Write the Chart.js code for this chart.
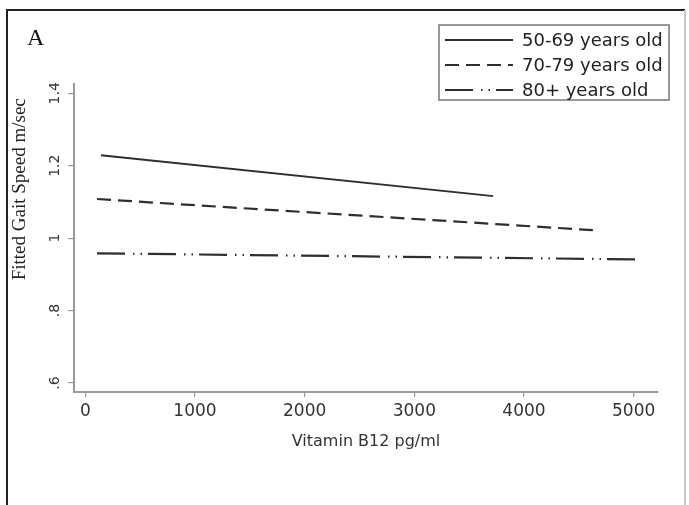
<!DOCTYPE html>
<html>
<head>
<meta charset="utf-8">
<script src="https://cdn.jsdelivr.net/npm/chart.js@4.4.0/dist/chart.umd.min.js"></script>
<style>
  html, body { margin: 0; padding: 0; background: #fff; }
  #wrap { position: relative; width: 689px; height: 505px; }
</style>
</head>
<body>
<div id="wrap"><canvas id="gait-chart"></canvas></div>
<script>
// fitted lines (start and end of each line)
const ageGroups = ["50-69 years old", "70-79 years old", "80+ years old"];
const b12Young = [143, 3719];
const gaitYoung = [1.229, 1.116];
const b12Mid = [107, 4628];
const gaitMid = [1.108, 1.022];
const b12Old = [107, 5079];
const gaitOld = [0.958, 0.941];

const b12Ticks = [0, 1000, 2000, 3000, 4000, 5000];
const gaitTicks = [0.6, 0.8, 1.0, 1.2, 1.4];
const gaitTickLabels = [".6", ".8", "1", "1.2", "1.4"];

const toPoints = (xs, ys) => xs.map((x, i) => ({ x: x, y: ys[i] }));

const lineColor = "#2e2e2e";
const axisColor = "#9a9a9a";

// outer frame + panel letter
const framePlugin = {
  id: "frame",
  beforeDraw(chart) {
    const ctx = chart.ctx;
    ctx.save();
    ctx.fillStyle = "#fff";
    ctx.fillRect(0, 0, chart.width, chart.height);
    ctx.lineWidth = 2;
    ctx.strokeStyle = "#222";
    ctx.beginPath();
    ctx.moveTo(7, chart.height);
    ctx.lineTo(7, 10);
    ctx.lineTo(685, 10);
    ctx.stroke();
    ctx.strokeStyle = "#c8c8c8";
    ctx.beginPath();
    ctx.moveTo(685, 10);
    ctx.lineTo(685, chart.height);
    ctx.stroke();
    ctx.fillStyle = "#111";
    ctx.font = '24px "Liberation Serif"';
    ctx.textBaseline = "alphabetic";
    ctx.fillText("A", 27, 45);
    ctx.restore();
  },
};

// boxed legend drawn over the top right, like the original
const boxLegend = {
  id: "boxLegend",
  afterDraw(chart) {
    const ctx = chart.ctx;
    const box = { x: 439, y: 25, w: 230, h: 75 };
    ctx.save();
    ctx.lineWidth = 1.5;
    ctx.strokeStyle = "#777";
    ctx.setLineDash([]);
    ctx.strokeRect(box.x, box.y, box.w, box.h);
    chart.data.datasets.forEach((ds, i) => {
      const y = box.y + 15 + i * 25;
      ctx.strokeStyle = ds.borderColor;
      ctx.lineWidth = ds.borderWidth;
      ctx.setLineDash(ds.borderDash || []);
      ctx.beginPath();
      ctx.moveTo(box.x + 6, y);
      ctx.lineTo(box.x + 74, y);
      ctx.stroke();
      ctx.setLineDash([]);
      ctx.fillStyle = "#222";
      ctx.font = '18px "DejaVu Sans"';
      ctx.textBaseline = "middle";
      ctx.fillText(ds.label, box.x + 83, y + 1);
    });
    ctx.restore();
  },
};

const gaitCanvas = document.getElementById("gait-chart");

let gaitChart = new Chart(gaitCanvas, {
  type: "line",
  data: {
    datasets: [
      {
        label: ageGroups[0],
        data: toPoints(b12Young, gaitYoung),
        borderColor: lineColor,
        borderWidth: 2,
        borderDash: [],
        pointRadius: 0,
        fill: false,
      },
      {
        label: ageGroups[1],
        data: toPoints(b12Mid, gaitMid),
        borderColor: lineColor,
        borderWidth: 2.2,
        borderDash: [14, 7],
        pointRadius: 0,
        fill: false,
      },
      {
        label: ageGroups[2],
        data: toPoints(b12Old, gaitOld),
        borderColor: lineColor,
        borderWidth: 2.2,
        borderDash: [28, 8, 1.5, 6, 1.5, 6],
        pointRadius: 0,
        fill: false,
      },
    ],
  },
  options: {
    responsive: true,
    maintainAspectRatio: false,
    devicePixelRatio: 1,
    animation: false,
    layout: {
      padding: { top: 84, right: 31, left: 0, bottom: 0 },
    },
    plugins: {
      legend: { display: false },
      tooltip: { enabled: false },
    },
    scales: {
      x: {
        type: "linear",
        min: -103,
        max: 5222,
        afterBuildTicks: (scale) => {
          scale.ticks = b12Ticks.map((v) => ({ value: v }));
        },
        afterFit: (scale) => {
          scale.height = 113;
        },
        ticks: {
          autoSkip: false,
          maxRotation: 0,
          padding: 4,
          color: "#333",
          font: { family: "DejaVu Sans", size: 17 },
          callback: (value) => String(value),
        },
        grid: {
          drawOnChartArea: false,
          tickLength: 5,
          color: axisColor,
          lineWidth: 1.2,
        },
        border: { color: axisColor, width: 2 },
        title: {
          display: true,
          text: "Vitamin B12 pg/ml",
          color: "#333",
          font: { family: "DejaVu Sans", size: 16 },
          padding: { top: 54, bottom: 54 },
        },
      },
      y: {
        min: 0.575,
        max: 1.4257,
        afterBuildTicks: (scale) => {
          scale.ticks = gaitTicks.map((v) => ({ value: v }));
        },
        afterFit: (scale) => {
          scale.width = 74;
        },
        ticks: {
          autoSkip: false,
          minRotation: 90,
          maxRotation: 90,
          crossAlign: "center",
          padding: 2,
          color: "#333",
          font: { family: "DejaVu Sans", size: 14 },
          callback: (value, index) => gaitTickLabels[index],
        },
        grid: {
          drawOnChartArea: false,
          tickLength: 6,
          color: axisColor,
          lineWidth: 1.2,
        },
        border: { color: axisColor, width: 2 },
        title: {
          display: true,
          text: "Fitted Gait Speed m/sec   ",
          align: "end",
          color: "#222",
          font: { family: "Liberation Serif", size: 19 },
          padding: { top: 9, bottom: 9 },
        },
      },
    },
  },
  plugins: [framePlugin, boxLegend],
});
</script>
</body>
</html>
